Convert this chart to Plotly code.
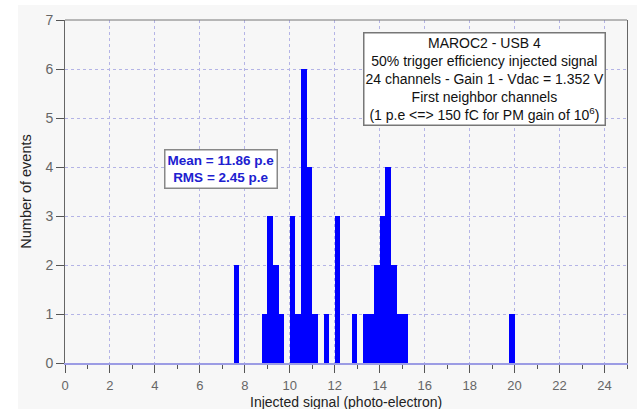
import plotly.graph_objects as go

# Histogram of injected signal, 0.25 p.e. bins (left edges) and event counts
bin_left = [7.5, 8.75, 9.0, 9.25, 9.5, 10.0, 10.25, 10.5, 10.75, 11.0, 11.5,
            12.0, 12.75, 13.25, 13.5, 13.75, 14.0, 14.25, 14.5, 14.75, 15.0, 19.75]
counts = [2, 1, 3, 2, 1, 3, 1, 6, 4, 1, 1,
          3, 1, 1, 1, 2, 3, 4, 2, 1, 1, 1]
bin_width = 0.25

x_ticks = list(range(0, 26, 2))
y_ticks = list(range(0, 8))

x_title = "Injected signal (photo-electron)"
y_title = "Number of events"
info_lines = [
    "MAROC2 - USB 4",
    "50% trigger efficiency injected signal",
    "24 channels - Gain 1 - Vdac = 1.352 V",
    "First neighbor channels",
    "(1 p.e <=> 150 fC for PM gain of 10<sup>6</sup>)",
]
stats_lines = ["Mean = 11.86 p.e", "RMS = 2.45 p.e"]

W, H = 637, 409
L, R, T, B = 65, 10, 20, 46
PW, PH = W - L - R, H - T - B

def px(xp):
    return (xp - L) / PW

def py(yp):
    return (H - B - yp) / PH

BG = "#f7f7f7"
GRID = "#b4b4e6"
FONT = "Arial, Liberation Sans, sans-serif"

fig = go.Figure()
fig.add_trace(go.Bar(
    x=bin_left, y=counts, width=bin_width, offset=0,
    marker=dict(color="#0000ff", line=dict(width=0)),
    showlegend=False,
))

fig.update_layout(
    width=W, height=H,
    margin=dict(l=L, r=R, t=T, b=B, pad=0, autoexpand=False),
    paper_bgcolor=BG, plot_bgcolor=BG,
    bargap=0,
    font=dict(family=FONT, size=13, color="#666666"),
    xaxis=dict(
        range=[0, 25], tickvals=x_ticks, automargin=False,
        showgrid=True, gridcolor=GRID, griddash="dot", gridwidth=1,
        zeroline=False,
        showline=True, linecolor="#9c9ce4", linewidth=2,
        ticks="outside", ticklen=8, tickcolor="#555555", tickwidth=1,
        ticklabelstandoff=1,
        minor=dict(dtick=1, ticks="outside", ticklen=4, tickcolor="#555555", showgrid=False),
        tickfont=dict(family=FONT, size=13, color="#666666"),
    ),
    yaxis=dict(
        range=[0, 7], tickvals=y_ticks, automargin=False,
        showgrid=True, gridcolor=GRID, griddash="dot", gridwidth=1,
        zeroline=False,
        showline=True, linecolor="#666666", linewidth=1, mirror=True,
        ticks="outside", ticklen=8, tickcolor="#555555", tickwidth=1,
        tickfont=dict(family=FONT, size=14, color="#666666"),
        title=dict(text=y_title, standoff=10,
                   font=dict(family=FONT, size=14.5, color="#222222")),
    ),
    shapes=[
        # top frame edge
        dict(type="line", xref="paper", yref="paper", x0=0, x1=1, y0=1, y1=1,
             line=dict(color="#777777", width=1)),
        # white page border at top and left
        dict(type="rect", xref="paper", yref="paper", layer="below",
             x0=px(0), x1=px(W), y0=py(5), y1=py(0),
             fillcolor="white", line=dict(width=0)),
        dict(type="rect", xref="paper", yref="paper", layer="below",
             x0=px(0), x1=px(18), y0=py(H), y1=py(0),
             fillcolor="white", line=dict(width=0)),
    ],
    annotations=[
        # x-axis title, sitting on the bottom edge of the page
        dict(xref="paper", yref="paper", x=0.5, y=py(H + 3),
             xanchor="center", yanchor="bottom", showarrow=False,
             text=x_title, font=dict(family=FONT, size=14, color="#222222")),
        dict(xref="paper", yref="paper", x=px(484), y=py(32),
             xanchor="center", yanchor="top", showarrow=False,
             text="<br>".join(info_lines), align="center",
             font=dict(family=FONT, size=14, color="#111111"),
             bgcolor="white", bordercolor="#777777", borderwidth=1.5, borderpad=1),
        dict(xref="paper", yref="paper", x=px(221), y=py(169.5),
             xanchor="center", yanchor="middle", showarrow=False,
             text="<b>" + "<br>".join(stats_lines) + "</b>", align="center",
             font=dict(family=FONT, size=13.5, color="#2020d0"),
             bgcolor="white", bordercolor="#888888", borderwidth=1.5, borderpad=2),
    ],
)

fig.write_html("out.html")
